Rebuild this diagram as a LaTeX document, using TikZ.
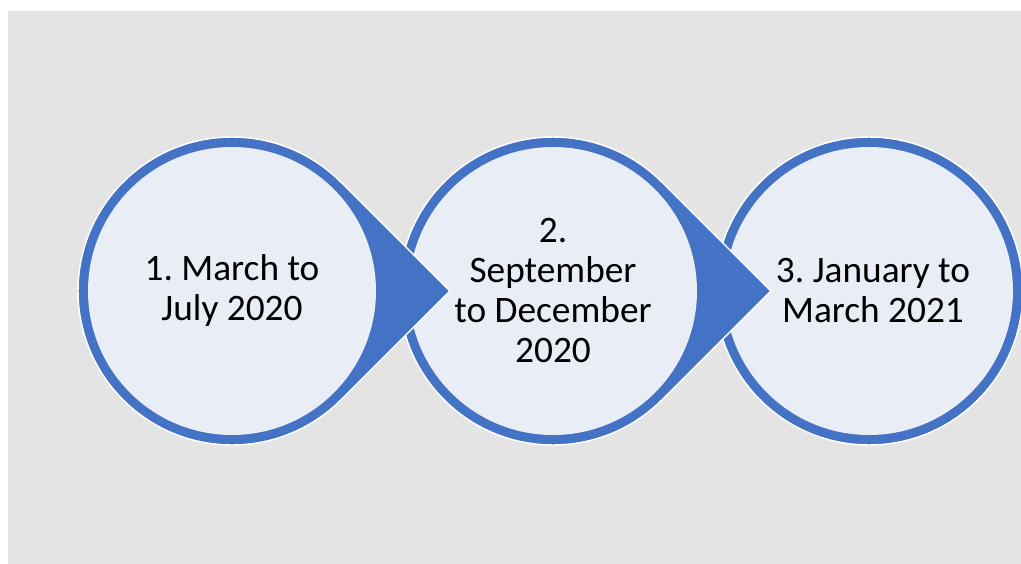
\documentclass[tikz,border=0pt]{standalone}
\usepackage{fontspec}
\setmainfont{Carlito}
\usepackage{tikz}
\definecolor{bggray}{HTML}{E4E4E4}
\definecolor{ringblue}{HTML}{4472C4}
\definecolor{innerfill}{HTML}{E9EDF6}
\frenchspacing

\begin{document}
\begin{tikzpicture}[x=0.75pt,y=-0.75pt,
	stage/.style={align=center,text=black,font=\fontsize{28}{30}\selectfont}]
	\useasboundingbox (0,0) rectangle (1021,564);
	\fill[bggray] (8,11) rectangle (1021,564);
	% last circle has no point
	\filldraw[ringblue,draw=white,line width=1.1pt] (869,291) circle (154);
	\fill[innerfill] (869,291) circle (144);
	% drops drawn right to left, so every point lies over the next circle
	\foreach \cx in {553,232}{
		\filldraw[ringblue,draw=white,line width=1.1pt] (\cx,291) ++(45:154) arc[start angle=45,end angle=315,radius=154] -- (\cx+218,291) -- cycle;
		\fill[innerfill] (\cx,291) circle (144);
	}
	\node[stage] (p1) at (232,291) {1. March to\\July 2020};
	\node[stage] (p2) at (553,291) {2.\\September\\to December\\2020};
	\node[stage] (p3) at (873,291) {3. January to\\March 2021};
\end{tikzpicture}
\end{document}
